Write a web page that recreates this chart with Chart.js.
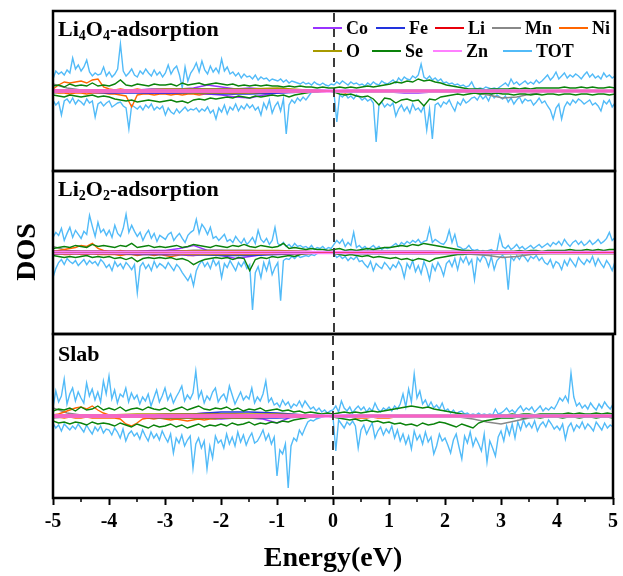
<!DOCTYPE html>
<html>
<head>
<meta charset="utf-8">
<script src="https://cdn.jsdelivr.net/npm/chart.js@4.4.1/dist/chart.umd.min.js"></script>
<style>
  html, body { margin:0; padding:0; background:#fff; }
  #wrap { position:relative; width:623px; height:576px; overflow:hidden; background:#fff; }
  #wrap canvas { position:absolute; }
  #dos { position:absolute; left:26px; top:252px; transform:translate(-50%,-50%) rotate(-90deg);
         font:bold 28px "Liberation Serif", "Times New Roman", serif; color:#000; white-space:nowrap; }
</style>
</head>
<body>
<div id="wrap">
  <canvas id="p1" width="570" height="166" style="left:49px;top:8px"></canvas>
  <canvas id="p2" width="570" height="169" style="left:49px;top:168px"></canvas>
  <canvas id="p3" width="600" height="245" style="left:23px;top:331px"></canvas>
  <div id="dos">DOS</div>
</div>
<script>
// Projected DOS, spin up (+) / spin down (-), energies from -5 to 5 eV
// TOT on a 0.05 eV grid, Se and Ni on 0.1 eV, Co/Mn on 0.25 eV, Fe/Li/O/Zn on 0.5 eV

// ---------- Li4O4-adsorption ----------
const p1TotUp = [
  12,20,17,19,16,21,18,33,22,26, 20,24,31,19,15,18,16,17,24,15,
  19,14,17,22,47,20,15,18,22,16, 14,20,17,22,18,15,21,16,19,14,
  18,26,17,22,25,16,3,24,10,18, 22,28,19,30,21,17,25,19,23,18,
  32,20,24,17,19,15,18,13,17,14, 15,12,16,11,14,12,13,10,12,11,
  10,12,9,11,8,10,9,8,7,9, 7,8,6,9,7,6,8,6,5,7,
  6,9,7,10,8,6,9,7,8,6, 7,5,8,6,9,7,6,10,8,7,
  9,11,8,13,10,14,12,11,15,13, 16,27,14,12,15,11,13,10,12,8,
  9,7,8,6,7,5,6,4,5,9, 3,2,3,2,4,3,2,3,2,4,
  6,8,5,12,7,9,6,8,10,7, 9,7,11,8,10,13,16,11,14,19,
  12,15,18,13,16,14,17,15,12,16, 19,14,17,13,15,12,18,14,16,13,
  15];
const p1TotDn = [
  -9,-14,-11,-24,-10,-8,-12,-7,-13,-9, -11,-14,-8,-12,-10,-26,-13,-11,-15,-12,
  -10,-16,-14,-12,-11,-15,-17,-38,-14,-16, -18,-15,-19,-14,-17,-13,-19,-16,-18,-15,
  -24,-17,-21,-23,-18,-22,-19,-16,-20,-18, -19,-17,-21,-18,-20,-16,-22,-19,-28,-17,
  -21,-14,-23,-16,-19,-13,-20,-15,-18,-13, -17,-14,-19,-16,-24,-12,-18,-9,-22,-15,
  -11,-20,-8,-43,-14,-9,-12,-7,-10,-6, -9,-5,-1,0,0,0,0,0,0,0,
  -2,-31,-4,-6,-3,-7,-5,-8,-4,-6, -9,-7,-10,-8,-12,-51,-14,-11,-16,-13,
  -15,-12,-25,-18,-14,-20,-16,-22,-13,-19, -17,-21,-15,-39,-18,-48,-14,-12,-16,-11,
  -13,-9,-15,-20,-11,-14,-8,-12,-10,-7, -6,-9,-4,-8,-5,-10,-3,-7,-4,-6,
  -8,-5,-11,-7,-13,-9,-6,-12,-8,-10, -9,-14,-11,-7,-12,-10,-15,-19,-28,-17,
  -13,-28,-16,-11,-14,-9,-12,-8,-10,-13, -11,-9,-14,-12,-15,-20,-10,-13,-9,-16,
  -12];
const p1SeUp = [
  5,6,4,7,5,6,5,8,5,6, 5,7,11,6,5,7,6,5,7,6, 6,7,5,8,6,7,8,6,7,8,
  7,6,7,5,6,5,6,5,6,5, 5,4,5,4,5,4,4,3,4,3, 3,4,3,4,3,4,5,4,5,6,
  7,9,8,10,9,12,10,11,9,8, 6,5,4,3,2,2,2,1,2,2, 2,2,3,2,3,2,3,3,3,3,
  3,4,3,3,4,3,4,3,3,4, 3];
const p1SeDn = [
  -4,-5,-6,-4,-5,-6,-5,-4,-6,-5, -6,-8,-9,-10,-9,-11,-10,-9,-10,-11, -10,-9,-11,-10,-12,-9,-8,-9,-7,-8,
  -7,-6,-7,-5,-6,-7,-5,-6,-5,-4, -5,-4,-6,-4,-3,-2,-1,-1,0,0, -1,-3,-4,-3,-5,-6,-5,-8,-14,-7,
  -8,-12,-9,-8,-10,-9,-15,-8,-9,-6, -5,-4,-3,-4,-3,-2,-3,-2,-3,-2, -3,-3,-4,-3,-3,-4,-3,-4,-3,-3,
  -4,-3,-3,-4,-3,-3,-4,-3,-3,-4, -3];
const p1NiUp = [
  2,6,9,8,9,10,8,11,12,4, 2,1,2,1,1,2,1,1,1,1, 1,1,1,2,1,1,1,1,1,1,
  1,1,1,1,1,0,1,0,0,0, 0,0,0,0,0,0,0,0,0,0, 0,0,0,0,0,0,0,0,0,0,
  0,0,0,0,0,0,0,0,0,0, 0,0,0,0,0,0,0,0,0,0, 0,0,0,0,0,0,0,0,0,0,
  0,0,0,0,0,0,0,0,0,0, 0];
const p1NiDn = [
  -1,-2,-2,-3,-2,-2,-3,-2,-2,-2, -3,-3,-4,-5,-16,-4,-3,-3,-4,-3, -3,-4,-3,-4,-3,-3,-4,-3,-3,-3,
  -2,-2,-3,-2,-2,-1,-1,-1,-1,-1, -1,-1,-1,-1,0,0,0,0,0,0, 0,-1,-2,-1,-1,-1,-1,-1,-1,0,
  0,0,0,0,0,0,0,0,0,0, 0,0,0,0,0,0,0,0,0,0, 0,0,0,0,0,0,0,0,0,0,
  0,0,0,0,0,0,0,0,0,0, 0];
const p1CoUp = [1,1,1,1,1,1,1,2,2,2, 3,6,4,2,3,2,1,1,1,1, 0,1,1,1,1,1,1,1,1,1, 0,0,0,0,0,0,0,0,0,0,0];
const p1CoDn = [-1,-1,-1,-1,-1,-1,-1,-2,-2,-2, -2,-3,-4,-6,-7,-4,-2,-1,-1,0, 0,-1,-1,-1,-1,-2,-2,-1,-1,-1, 0,0,0,0,0,0,0,0,0,0,0];
const p1MnUp = [7,3,1,1,1,1,1,1,1,1, 1,1,1,1,1,1,0,0,0,0, 0,0,0,0,0,0,0,0,0,1, 1,1,1,1,1,0,0,0,0,0,0];
const p1MnDn = [-2,-1,-1,-1,-1,-1,-1,-1,-1,-1, -1,-1,-1,-1,-1,-1,0,0,0,0, 0,0,0,0,0,0,0,0,-1,-1, -2,-4,-7,-6,-3,-1,-1,0,0,0,0];
const p1FeUp = [1,1,1,1,1,2,2,2,1,1, 0,0,1,1,1,1,0,0,0,0,0];
const p1FeDn = [-1,-1,-2,-2,-2,-2,-3,-3,-2,-1, 0,-1,-1,-1,-1,-1,-1,0,0,0,0];
const p1LiUp = [1,1,1,1,1,1,1,1,1,1, 0,0,0,0,0,0,0,0,0,0,0];
const p1LiDn = [-1,-1,-1,-1,-1,-1,-1,-1,-1,-1, 0,0,0,0,0,0,0,0,0,0,0];
const p1OUp = [1,1,1,1,2,2,2,2,3,1, 0,1,1,1,1,1,1,1,1,1,1];
const p1ODn = [-1,-1,-1,-1,-1,-2,-2,-2,-1,-1, 0,-1,-1,-1,-1,-1,-1,-1,-1,-1,-1];
const p1ZnUp = [1,1,1,1,1,1,1,1,1,1, 1,1,1,1,1,1,1,1,1,1,1];
const p1ZnDn = [-1,-1,-1,-1,-1,-1,-1,-1,-1,-1, -1,-1,-1,-1,-1,-1,-1,-1,-1,-1,-1];

// ---------- Li2O2-adsorption ----------
const p2TotUp = [
  15,20,17,24,12,19,25,15,22,18, 14,21,18,37,26,16,30,20,23,17,
  22,15,27,19,16,24,38,20,27,21, 16,20,12,18,22,14,19,11,17,15,
  13,18,20,12,16,19,14,10,17,20, 22,33,19,28,24,18,25,14,16,12,
  15,18,11,13,10,16,12,9,14,8, 11,15,9,22,13,10,14,8,12,25,
  9,7,10,6,8,5,9,6,7,5, 6,4,7,3,5,4,6,3,5,4,
  8,12,9,13,6,10,7,20,5,7, 4,6,3,5,7,4,6,3,5,4,
  5,7,9,6,10,8,11,9,12,10, 13,9,11,12,24,10,13,11,9,8,
  12,22,10,18,6,5,3,4,7,3, 2,3,1,2,1,2,3,1,2,17,
  6,4,7,3,5,8,4,6,3,5, 7,4,6,8,5,7,9,6,10,8,
  11,7,13,9,6,10,12,8,11,7, 9,12,8,10,13,9,11,14,20,12,
  15];
const p2TotDn = [
  -25,-16,-10,-7,-12,-6,-9,-11,-8,-13, -10,-7,-12,-8,-11,-9,-13,-7,-10,-15,
  -12,-18,-9,-14,-11,-16,-10,-13,-17,-12, -40,-14,-10,-16,-12,-18,-9,-15,-11,-13,
  -16,-10,-14,-18,-12,-15,-20,-24,-28,-22, -33,-18,-12,-8,-14,-10,-16,-7,-13,-9,
  -25,-11,-15,-8,-13,-18,-10,-14,-9,-16, -12,-57,-20,-14,-25,-10,-18,-8,-22,-15,
  -10,-48,-8,-6,-7,-4,-6,-3,-5,-4, -3,-4,-2,-3,-1,0,0,0,0,0,
  -1,-5,-3,-6,-4,-8,-5,-7,-4,-9, -8,-12,-15,-9,-18,-11,-14,-16,-10,-13,
  -17,-12,-15,-9,-14,-25,-11,-16,-8,-19, -13,-21,-9,-16,-27,-12,-18,-10,-15,-23,
  -11,-8,-14,-6,-17,-5,-10,-4,-12,-7, -27,-5,-9,-3,-6,-14,-4,-17,-8,-5,
  -3,-6,-37,-4,-8,-3,-7,-2,-5,-9, -4,-6,-3,-8,-5,-10,-12,-7,-15,-9,
  -11,-17,-8,-13,-6,-10,-14,-5,-9,-12, -7,-10,-4,-13,-6,-11,-15,-8,-12,-18,
  -9];
const p2SeUp = [
  4,5,6,5,7,6,5,8,6,7, 6,5,7,6,9,5,6,7,5,6, 5,6,7,5,6,8,7,6,5,7,
  6,5,7,6,8,6,5,7,6,5, 6,9,4,5,4,3,4,3,3,2, 3,4,2,3,2,3,4,3,4,5,
  5,6,7,6,8,7,9,8,7,6, 5,4,3,2,2,1,1,1,1,1, 1,1,1,2,1,2,2,1,2,2,
  2,2,3,2,2,3,2,3,2,3, 3];
const p2SeDn = [
  -3,-4,-5,-4,-5,-4,-3,-5,-4,-5, -4,-6,-5,-7,-5,-9,-6,-5,-6,-5, -6,-5,-7,-6,-8,-12,-9,-7,-6,-5,
  -6,-5,-7,-5,-6,-18,-7,-5,-6,-4, -5,-4,-3,-4,-2,-1,-1,0,0,0, -1,-2,-3,-2,-3,-4,-3,-5,-4,-5,
  -6,-5,-7,-6,-8,-6,-7,-9,-6,-5, -4,-3,-2,-2,-1,-1,-1,-1,-1,-1, -1,-1,-1,-1,-1,-1,-1,-1,-1,-1,
  -1,-1,-1,-1,-1,-1,-1,-1,-1,-1, -1];
const p2NiUp = [
  1,2,3,4,5,7,6,9,4,2, 1,1,2,1,1,1,1,1,1,1, 1,1,1,1,1,1,1,1,1,1,
  1,1,0,0,0,0,0,0,0,0, 0,0,0,0,0,0,0,0,0,0, 0,0,0,0,0,0,0,0,0,0,
  0,0,0,0,0,0,0,0,0,0, 0,0,0,0,0,0,0,0,0,0, 0,0,0,0,0,0,0,0,0,0,
  0,0,0,0,0,0,0,0,0,0, 0];
const p2NiDn = [
  -1,-1,-2,-2,-1,-2,-2,-1,-2,-2, -2,-2,-3,-2,-2,-3,-2,-2,-3,-2, -3,-4,-3,-2,-3,-3,-2,-2,-2,-2,
  -1,-1,-1,-1,-1,-1,-1,0,0,0, 0,0,0,0,0,0,0,0,0,0, 0,0,0,0,0,0,0,0,0,0,
  0,0,0,0,0,0,0,0,0,0, 0,0,0,0,0,0,0,0,0,0, 0,0,0,0,0,0,0,0,0,0,
  0,0,0,0,0,0,0,0,0,0, 0];
const p2CoUp = [1,1,1,1,1,1,1,2,2,4, 7,2,2,1,1,1,1,0,0,0, 0,1,1,1,1,1,1,1,0,0, 0,0,0,0,0,0,0,0,0,0,0];
const p2CoDn = [-1,-1,-1,-1,-1,-1,-1,-1,-2,-2, -3,-2,-3,-6,-4,-2,-1,-1,0,0, 0,-1,-1,-1,-1,-1,-1,-1,0,0, 0,0,0,0,0,0,0,0,0,0,0];
const p2MnUp = [6,2,1,1,1,1,1,1,1,1, 1,1,1,1,0,0,0,0,0,0, 0,0,0,0,0,0,0,0,0,0, 1,1,1,1,0,0,0,0,0,0,0];
const p2MnDn = [-2,-1,-1,-1,-1,-1,-1,-1,-1,-1, -1,-1,-1,-1,0,0,0,0,0,0, 0,0,0,0,0,0,0,0,0,-1, -2,-3,-5,-4,-2,-1,0,0,0,0,0];
const p2FeUp = [1,1,1,1,1,2,2,2,1,1, 0,1,1,1,1,1,0,0,0,0,0];
const p2FeDn = [-1,-1,-1,-2,-2,-2,-3,-3,-2,-1, 0,-1,-1,-1,-1,-1,-1,0,0,0,0];
const p2LiUp = [1,1,1,1,1,1,1,1,1,1, 0,0,0,0,0,0,0,0,0,0,0];
const p2LiDn = [-1,-1,-1,-1,-1,-1,-1,-1,-1,-1, 0,0,0,0,0,0,0,0,0,0,0];
const p2OUp = [1,1,1,1,1,2,2,2,2,1, 0,1,1,1,1,1,1,1,1,1,1];
const p2ODn = [-1,-1,-1,-1,-1,-2,-2,-2,-1,-1, 0,-1,-1,-1,-1,-1,-1,-1,-1,-1,-1];
const p2ZnUp = [1,1,1,1,1,1,1,1,1,1, 1,1,1,1,1,1,1,1,1,1,1];
const p2ZnDn = [-1,-1,-1,-1,-1,-1,-1,-1,-1,-1, -1,-1,-1,-1,-1,-1,-1,-1,-1,-1,-1];

// ---------- Slab ----------
const p3TotUp = [
  8,25,14,20,37,12,22,28,15,24, 18,13,33,20,27,16,24,14,35,22,
  40,17,26,13,22,19,28,14,23,17, 21,12,19,15,22,10,18,26,14,20,
  28,16,22,13,19,24,30,15,21,17, 23,45,18,25,13,20,16,24,28,14,
  19,22,15,30,21,12,18,24,16,20, 17,28,13,19,15,22,35,14,18,11,
  13,9,16,11,14,8,12,10,15,9, 15,11,7,9,5,8,4,6,3,5,
  6,10,4,15,8,5,9,3,7,10, 6,9,4,8,5,13,7,4,8,6,
  9,5,10,7,12,22,9,27,14,42, 18,25,12,16,9,14,8,11,7,13,
  5,7,3,6,2,4,5,2,3,1, 2,1,3,1,2,1,2,1,7,2,
  3,5,8,4,6,3,7,10,5,8, 6,9,4,7,10,5,8,6,9,7,
  12,18,15,20,14,43,19,10,13,8, 11,7,13,9,6,12,8,14,10,7,
  12];
const p3TotDn = [
  -7,-12,-9,-15,-8,-11,-14,-10,-13,-8, -12,-16,-9,-14,-18,-11,-15,-10,-17,-13,
  -14,-19,-12,-16,-22,-13,-25,-18,-15,-20, -17,-23,-14,-20,-25,-16,-22,-18,-24,-15,
  -21,-26,-18,-37,-22,-27,-19,-30,-24,-20, -52,-28,-22,-32,-25,-53,-30,-42,-20,-27,
  -24,-32,-18,-28,-21,-30,-16,-26,-19,-29, -22,-17,-27,-25,-20,-14,-24,-18,-28,-21,
  -60,-34,-38,-28,-72,-30,-22,-25,-14,-19, -12,-6,-4,-5,-3,-2,-1,0,0,0,
  -1,-35,-4,-8,-12,-6,-9,-5,-10,-32, -14,-9,-18,-12,-7,-22,-15,-11,-19,-13,
  -17,-10,-22,-14,-25,-18,-28,-20,-33,-15, -24,-19,-28,-16,-26,-21,-38,-30,-18,-25,
  -22,-29,-37,-24,-18,-31,-43,-20,-27,-16, -30,-22,-28,-35,-18,-46,-25,-32,-40,-21,
  -15,-25,-10,-19,-8,-22,-6,-14,-4,-11, -7,-12,-5,-15,-9,-6,-11,-4,-8,-13,
  -10,-14,-8,-23,-11,-7,-15,-9,-12,-6, -13,-8,-11,-15,-6,-10,-14,-7,-12,-9,
  -11];
const p3SeUp = [
  5,7,6,8,5,9,6,7,10,6, 8,6,9,5,7,8,6,9,7,6, 8,5,7,9,6,8,10,7,6,8,
  7,9,6,8,5,7,6,8,5,6, 7,5,6,4,5,3,4,3,2,3, 2,3,4,3,4,3,4,5,4,5,
  6,7,8,9,10,9,8,9,7,6, 5,4,3,2,1,1,1,1,1,1, 1,1,2,1,2,2,1,2,2,2,
  2,2,3,2,3,2,2,3,2,3, 2];
const p3SeDn = [
  -5,-7,-6,-8,-6,-7,-9,-6,-8,-7, -8,-10,-7,-9,-11,-8,-10,-12,-9,-11, -10,-8,-11,-9,-12,-10,-8,-11,-9,-10,
  -8,-10,-7,-9,-8,-6,-9,-7,-8,-6, -7,-5,-6,-4,-3,-2,-1,-1,0,0, -1,-2,-3,-4,-3,-5,-4,-6,-5,-7,
  -6,-8,-7,-9,-8,-10,-7,-9,-8,-6, -7,-9,-11,-8,-10,-12,-7,-5,-4,-3, -2,-2,-2,-1,-2,-1,-1,-2,-1,-1,
  -1,-2,-1,-1,-2,-1,-1,-2,-1,-1, -2];
const p3NiUp = [
  1,2,4,6,8,9,7,10,6,3, 1,1,1,1,1,1,1,1,1,1, 1,1,1,1,1,1,1,1,1,1,
  1,1,1,0,0,0,0,0,0,0, 0,0,0,0,0,0,0,0,0,0, 0,0,0,0,0,0,0,0,0,0,
  0,0,0,0,0,0,0,0,0,0, 0,0,0,0,0,0,0,0,0,0, 0,0,0,0,0,0,0,0,0,0,
  0,0,0,0,0,0,0,0,0,0, 0];
const p3NiDn = [
  -1,-1,-2,-1,-2,-2,-1,-2,-2,-2, -2,-2,-3,-8,-10,-7,-3,-2,-3,-2, -3,-4,-3,-4,-5,-4,-3,-4,-3,-3,
  -2,-2,-1,-1,-1,-1,-1,-1,-1,-1, -1,-1,-1,-1,0,0,0,0,0,0, 0,-1,-1,-1,-2,-2,-2,-1,-2,-2,
  -2,-1,-1,0,0,0,0,0,0,0, 0,0,0,0,0,0,0,0,0,0, 0,0,0,0,0,0,0,0,0,0,
  0,0,0,0,0,0,0,0,0,0, 0];
const p3CoUp = [1,1,1,1,1,1,1,1,2,2, 2,3,2,2,1,1,1,0,0,0, 0,1,1,1,1,1,1,1,0,0, 0,0,0,0,0,0,0,0,0,0,0];
const p3CoDn = [-1,-1,-1,-1,-1,-1,-1,-1,-2,-2, -2,-2,-3,-2,-2,-3,-7,-1,0,0, 0,-1,-1,-1,-1,-1,-1,-1,0,0, 0,0,0,0,0,0,0,0,0,0,0];
const p3MnUp = [8,3,1,1,1,1,1,1,1,1, 1,1,1,1,0,0,0,0,0,0, 0,0,0,0,0,0,0,0,0,0, 0,1,1,0,0,0,0,0,0,0,0];
const p3MnDn = [-2,-1,-1,-1,-1,-1,-1,-1,-1,-1, -1,-1,-1,-1,0,0,0,0,0,0, 0,0,0,0,0,0,0,0,0,-1, -3,-6,-8,-5,-2,-1,0,0,0,0,0];
const p3FeUp = [1,1,1,1,1,2,4,4,3,1, 0,1,1,1,1,1,0,0,0,0,0];
const p3FeDn = [-1,-1,-1,-1,-2,-2,-2,-2,-2,-1, 0,-1,-1,-1,-1,-1,-1,0,0,0,0];
const p3LiUp = [1,1,1,1,1,1,1,1,1,1, 0,0,0,0,0,0,0,0,0,0,0];
const p3LiDn = [-1,-1,-1,-1,-1,-1,-1,-1,-1,-1, 0,0,0,0,0,0,0,0,0,0,0];
const p3OUp = [1,1,1,2,2,2,2,2,2,1, 0,1,1,1,1,1,1,1,1,1,1];
const p3ODn = [-1,-1,-1,-1,-2,-2,-2,-2,-1,-1, 0,-1,-1,-1,-1,-1,-1,-1,-1,-1,-1];
const p3ZnUp = [1,1,1,1,1,1,1,1,1,1, 1,1,1,1,1,1,1,1,1,1,1];
const p3ZnDn = [-1,-1,-1,-1,-1,-1,-1,-1,-1,-1, -1,-1,-1,-1,-1,-1,-1,-1,-1,-1,-1];

const xTicks = [-5, -4, -3, -2, -1, 0, 1, 2, 3, 4, 5];

const COLORS = {
  Co: '#9933ff', Fe: '#2233dd', Li: '#e8000b', Mn: '#888888', Ni: '#ff6600',
  O: '#a89a00', Se: '#0a820a', Zn: '#ff80ff', TOT: '#52bbf8'
};
const SERIF = '"Liberation Serif", "Times New Roman", serif';

// energy grid index -> eV
function pts(values, step) {
  return values.map((y, i) => ({ x: -5 + i * step, y }));
}

function buildDatasets(p) {
  const out = [];
  const add = (name, up, dn, step, order) => {
    [up, dn].forEach(v => out.push({
      label: name, data: pts(v, step), borderColor: COLORS[name],
      borderWidth: 1.4, pointRadius: 0, tension: 0, fill: false, order
    }));
  };
  add('TOT', p.tot[0], p.tot[1], 0.05, 10);
  add('Mn', p.mn[0], p.mn[1], 0.25, 8);
  add('Ni', p.ni[0], p.ni[1], 0.1, 7);
  add('Co', p.co[0], p.co[1], 0.25, 6);
  add('Fe', p.fe[0], p.fe[1], 0.5, 5);
  add('O', p.o[0], p.o[1], 0.5, 4);
  add('Se', p.se[0], p.se[1], 0.1, 3);
  add('Li', p.li[0], p.li[1], 0.5, 2);
  add('Zn', p.zn[0], p.zn[1], 0.5, 1);
  return out;
}

// frame, Fermi level, panel name, legend, minor ticks
const panelDecor = {
  id: 'panelDecor',
  afterDatasetsDraw(chart, args, opts) {
    const { ctx, chartArea: a } = chart;
    const x = chart.scales.x;
    ctx.save();
    const xf = Math.round(x.getPixelForValue(0));
    ctx.strokeStyle = '#3a3a3a';
    ctx.lineWidth = 2;
    ctx.setLineDash([9, 6]);
    ctx.beginPath(); ctx.moveTo(xf, a.top + 2); ctx.lineTo(xf, a.bottom); ctx.stroke();
    ctx.setLineDash([]);

    ctx.strokeStyle = '#000';
    ctx.lineWidth = 2.5;
    ctx.strokeRect(a.left, a.top, a.right - a.left, a.bottom - a.top);

    if (opts.minorTicks) {
      ctx.lineWidth = 1.5;
      opts.minorTicks.forEach(v => {
        const px = x.getPixelForValue(v);
        ctx.beginPath(); ctx.moveTo(px, a.bottom); ctx.lineTo(px, a.bottom + 4); ctx.stroke();
      });
    }

    ctx.fillStyle = '#000';
    ctx.textAlign = 'left';
    ctx.textBaseline = 'alphabetic';
    let tx = a.left + 5;
    const base = a.top + opts.labelBase;
    opts.label.forEach(([t, sub]) => {
      ctx.font = 'bold ' + (sub ? 14 : 22) + 'px ' + SERIF;
      ctx.fillText(t, tx, base + (sub ? 4 : 0));
      tx += ctx.measureText(t).width;
    });

    if (opts.legend) {
      ctx.textBaseline = 'middle';
      ctx.font = 'bold 18px ' + SERIF;
      opts.legend.forEach(([name, lx, ly]) => {
        ctx.strokeStyle = COLORS[name];
        ctx.lineWidth = 2;
        ctx.beginPath(); ctx.moveTo(a.left + lx, a.top + ly); ctx.lineTo(a.left + lx + 29, a.top + ly); ctx.stroke();
        ctx.fillText(name, a.left + lx + 33, a.top + ly + 1);
      });
    }
    ctx.restore();
  }
};

function makePanel(id, data, yLim, decor, bottom) {
  const xScale = bottom ? {
    type: 'linear', min: -5, max: 5, position: 'bottom',
    afterBuildTicks: s => { s.ticks = xTicks.map(v => ({ value: v })); },
    ticks: { color: '#000', font: { family: SERIF, weight: 'bold', size: 20 }, padding: 5, maxRotation: 0, autoSkip: false },
    grid: { display: true, drawOnChartArea: false, drawTicks: true, tickLength: 7, tickWidth: 2, tickColor: '#000' },
    border: { display: false },
    title: { display: true, text: 'Energy(eV)', color: '#000', font: { family: SERIF, weight: 'bold', size: 28 }, padding: { top: 0, bottom: 0 } },
    afterFit: s => { s.height = 78; }
  } : { type: 'linear', min: -5, max: 5, display: false };

  return new Chart(document.getElementById(id), {
    type: 'line',
    data: { datasets: buildDatasets(data) },
    options: {
      responsive: false, animation: false, devicePixelRatio: 1,
      layout: { padding: bottom ? { left: 30, right: 8, top: 3, bottom: 0 } : { left: 4, right: 4, top: 3, bottom: 3 } },
      scales: { x: xScale, y: { min: -yLim, max: yLim, display: false } },
      plugins: { legend: { display: false }, tooltip: { enabled: false }, panelDecor: decor }
    },
    plugins: [panelDecor]
  });
}

makePanel('p1', {
  tot: [p1TotUp, p1TotDn], se: [p1SeUp, p1SeDn], ni: [p1NiUp, p1NiDn], co: [p1CoUp, p1CoDn],
  mn: [p1MnUp, p1MnDn], fe: [p1FeUp, p1FeDn], li: [p1LiUp, p1LiDn], o: [p1OUp, p1ODn], zn: [p1ZnUp, p1ZnDn]
}, 80, {
  labelBase: 25,
  label: [['Li', false], ['4', true], ['O', false], ['4', true], ['-adsorption', false]],
  legend: [['Co', 260, 17], ['Fe', 323, 17], ['Li', 382, 17], ['Mn', 439, 17], ['Ni', 506, 17],
           ['O', 260, 40], ['Se', 319, 40], ['Zn', 380, 40], ['TOT', 450, 40]]
}, false);

makePanel('p2', {
  tot: [p2TotUp, p2TotDn], se: [p2SeUp, p2SeDn], ni: [p2NiUp, p2NiDn], co: [p2CoUp, p2CoDn],
  mn: [p2MnUp, p2MnDn], fe: [p2FeUp, p2FeDn], li: [p2LiUp, p2LiDn], o: [p2OUp, p2ODn], zn: [p2ZnUp, p2ZnDn]
}, 81, {
  labelBase: 25,
  label: [['Li', false], ['2', true], ['O', false], ['2', true], ['-adsorption', false]]
}, false);

makePanel('p3', {
  tot: [p3TotUp, p3TotDn], se: [p3SeUp, p3SeDn], ni: [p3NiUp, p3NiDn], co: [p3CoUp, p3CoDn],
  mn: [p3MnUp, p3MnDn], fe: [p3FeUp, p3FeDn], li: [p3LiUp, p3LiDn], o: [p3OUp, p3ODn], zn: [p3ZnUp, p3ZnDn]
}, 82, {
  labelBase: 27,
  label: [['Slab', false]],
  minorTicks: [-4.5, -3.5, -2.5, -1.5, -0.5, 0.5, 1.5, 2.5, 3.5, 4.5]
}, true);
</script>
</body>
</html>
